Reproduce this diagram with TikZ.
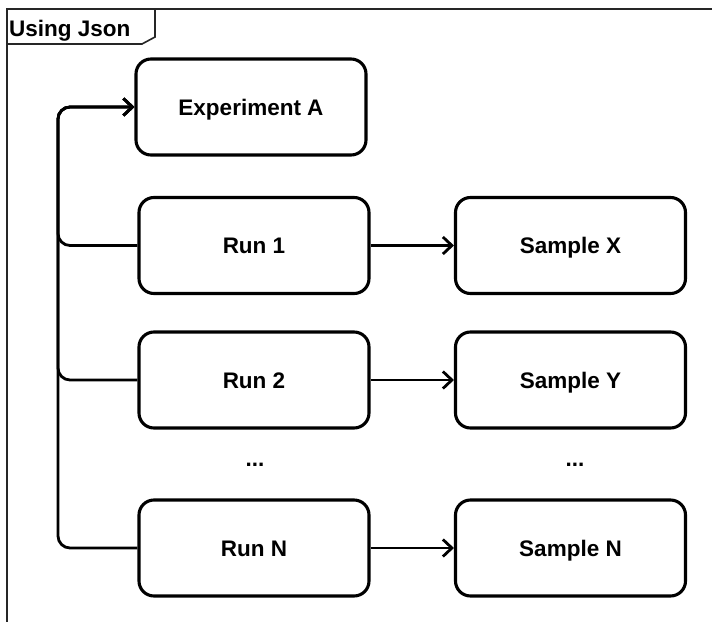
\documentclass[tikz,border=0pt]{standalone}
\usepackage{fontspec}
\setmainfont{Liberation Sans}
\usetikzlibrary{arrows.meta}
\begin{document}
\begin{tikzpicture}[x=1pt,y=-1pt,
  txt/.style={font=\fontsize{22.5}{26}\selectfont\bfseries,text height=16pt,text depth=0pt},
  box/.style={txt,draw=black,line width=3.1pt,rounded corners=15pt,fill=white,
    minimum width=230pt,minimum height=96pt,inner sep=0pt},
  conn/.style={draw=black,line width=2.8pt,rounded corners=12pt},
  arr/.style={conn,-{Straight Barb[length=9pt,width=17pt,line width=2.8pt]}},
  dots/.style={txt,inner sep=0pt},
  frame/.style={draw=black!85,line width=1.6pt}
]
\useasboundingbox (0,0) rectangle (712,621);
% outer frame
\draw[frame] (7,640) -- (7,9) -- (730,9);
\draw[frame] (7,44) -- (142,44) -- (155,37) -- (155,9);
\node[txt,anchor=west,inner sep=0pt] (lbl) at (9,28) {Using Json};
% nodes
\node[box] (expA) at (251,107) {Experiment A};
\node[box] (run1) at (254,245.5) {Run 1};
\node[box] (sx) at (570.5,245.5) {Sample X};
\node[box] (run2) at (254,380) {Run 2};
\node[box] (sy) at (570.5,380) {Sample Y};
\node[dots] (d1) at (255,458) {...};
\node[dots] (d2) at (575,458) {...};
\node[box] (runn) at (254,548) {Run N};
\node[box] (sn) at (570.5,548) {Sample N};
\coordinate (bus) at (58,0);
% connectors
\draw[arr] (run1.west) -- (run1.west -| bus) |- (expA.west);
\draw[arr] (run2.west) -- (run2.west -| bus) |- (expA.west);
\draw[arr] (runn.west) -- (runn.west -| bus) |- (expA.west);
\draw[arr] (run1.east) -- (sx.west);
\draw[arr] (run2.east) -- (sy.west);
\draw[arr] (runn.east) -- (sn.west);
\end{tikzpicture}
\end{document}
